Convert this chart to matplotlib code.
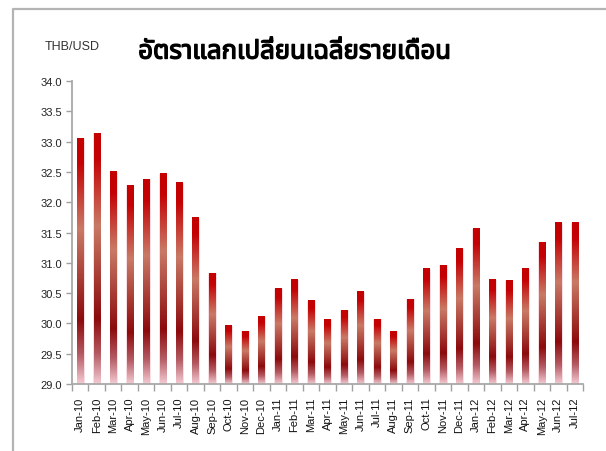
import numpy as np
import matplotlib
matplotlib.use("Agg")
import matplotlib.pyplot as plt
from matplotlib.colors import LinearSegmentedColormap
from matplotlib.lines import Line2D
from matplotlib import font_manager as fm
import matplotlib.patheffects as pe

months = ["Jan-10", "Feb-10", "Mar-10", "Apr-10", "May-10", "Jun-10", "Jul-10", "Aug-10",
          "Sep-10", "Oct-10", "Nov-10", "Dec-10", "Jan-11", "Feb-11", "Mar-11", "Apr-11",
          "May-11", "Jun-11", "Jul-11", "Aug-11", "Sep-11", "Oct-11", "Nov-11", "Dec-11",
          "Jan-12", "Feb-12", "Mar-12", "Apr-12", "May-12", "Jun-12", "Jul-12"]
rates = [33.05, 33.14, 32.50, 32.28, 32.38, 32.47, 32.32, 31.74,
         30.83, 29.96, 29.87, 30.11, 30.57, 30.72, 30.37, 30.06,
         30.22, 30.52, 30.07, 29.87, 30.40, 30.90, 30.96, 31.23,
         31.56, 30.72, 30.70, 30.90, 31.34, 31.66, 31.66]
yticks = [29.0, 29.5, 30.0, 30.5, 31.0, 31.5, 32.0, 32.5, 33.0, 33.5, 34.0]
title = "อัตราแลกเปลี่ยนเฉลี่ยรายเดือน"
unit = "THB/USD"

installed = {f.name for f in fm.fontManager.ttflist}
thai_cands = ["Noto Sans Thai", "Noto Sans Thai UI", "Noto Looped Thai", "Tlwg Typist", "Loma",
              "Garuda", "Kinnari", "Norasi", "Waree", "Sawasdee", "Umpush", "Laksaman",
              "Tahoma", "Leelawadee UI", "Arial Unicode MS", "FreeSans", "Noto Serif Thai"]
thai_fams = [f for f in thai_cands if f in installed]
title_family = thai_fams + ["DejaVu Sans"]

narrow = "Liberation Sans Narrow" if "Liberation Sans Narrow" in installed else "Liberation Sans"

cmap = LinearSegmentedColormap.from_list("bar", [
    (0.0, "#c40000"), (0.10, "#c40204"), (0.37, "#c97a66"),
    (0.74, "#8c0a0c"), (0.88, "#b45a62"), (1.0, "#f4cad2")])
grad = np.linspace(0, 1, 256).reshape(-1, 1)

fig = plt.figure(figsize=(6.06, 4.52), dpi=100)
ax = fig.add_axes([72/606, 1-385/452, (583-72)/606, (385-82)/452])

x = np.arange(len(months))
bw = 0.38
for xi, v in zip(x, rates):
    ax.imshow(grad, cmap=cmap, aspect="auto", interpolation="bilinear",
              extent=[xi - bw/2, xi + bw/2, 29.0, v], origin="upper", zorder=2)
    ax.bar(xi, v - 29.0, bottom=29.0, width=bw + 0.06, color="none",
           edgecolor=(0.95, 0.75, 0.78, 0.6), linewidth=0.6, zorder=1)

ax.set_xlim(-0.5, len(months) - 0.5)
ax.set_ylim(29.0, 34.0)
ax.set_yticks(yticks)
ax.set_yticklabels([f"{t:.1f}" for t in yticks], fontfamily=narrow, fontsize=8, color="#222222")
ax.set_xticks(x)
ax.set_xticklabels(months, rotation=90, fontfamily="Liberation Sans", fontsize=8, color="#111111")
ax.set_xticks(np.arange(-0.5, len(months), 1.0), minor=True)
ax.tick_params(axis="x", which="major", length=0, pad=9)
ax.tick_params(axis="x", which="minor", length=5, color="#a0a0a0", width=1, direction="out")
ax.tick_params(axis="y", length=4, color="#a0a0a0", width=1, direction="out", pad=3)
for s in ["top", "right"]:
    ax.spines[s].set_visible(False)
for s in ["left", "bottom"]:
    ax.spines[s].set_color("#a8a8a8")
    ax.spines[s].set_linewidth(1.3)

fig.text(295/606, 1-53/452, title, ha="center", va="center", fontsize=18.5,
         fontweight="bold", family=title_family, color="#000000",
         path_effects=[pe.withStroke(linewidth=1.0, foreground="#000000")])
fig.text(45/606, 1-47/452, unit, ha="left", va="center", fontsize=9,
         family="Liberation Sans", color="#333333")

fig.add_artist(Line2D([13/606, 13/606, 1.0], [0.0, 1-10/452, 1-10/452],
                      transform=fig.transFigure, color="#b4b4b4", linewidth=1.6))

fig.savefig("out.png", dpi=100)
